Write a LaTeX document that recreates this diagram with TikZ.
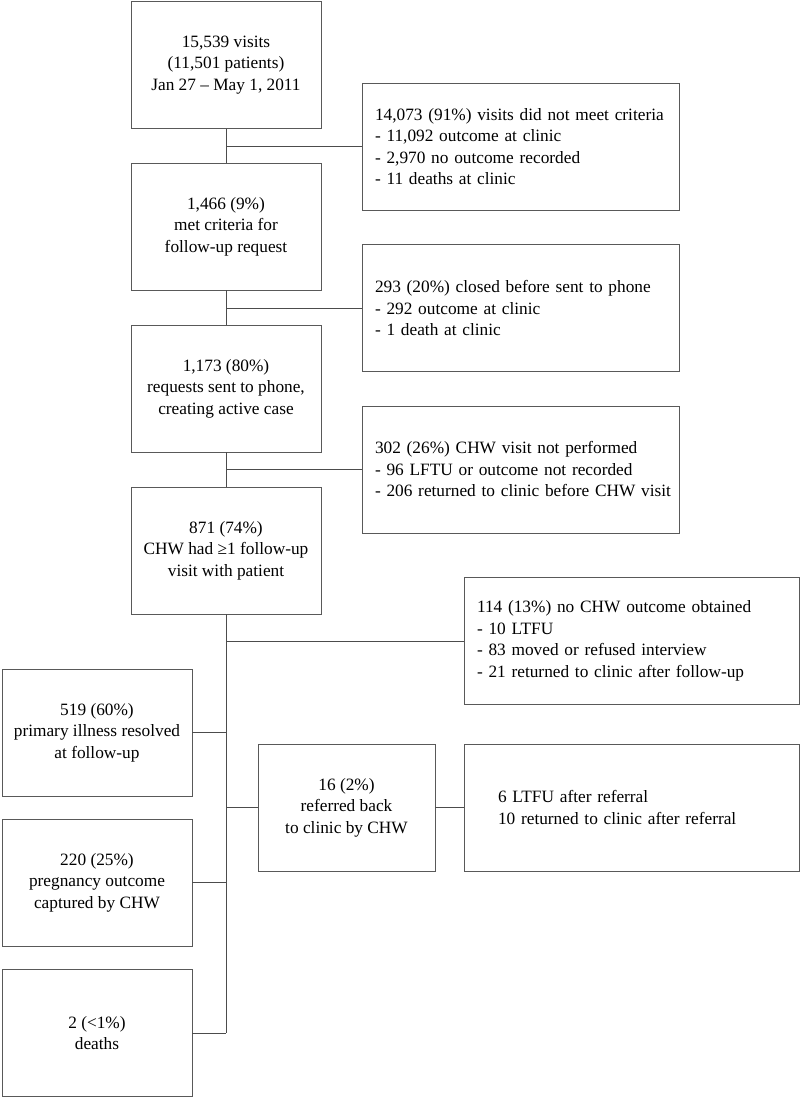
\documentclass[tikz,border=0pt]{standalone}
\usepackage{fontspec}
\setmainfont{Liberation Serif}
\begin{document}
\begin{tikzpicture}[x=1pt,y=-1pt,
  every node/.style={font=\fontsize{17.3}{21.5}\selectfont},
  cbox/.style={draw=black!65, line width=0.9pt, align=center, inner sep=0pt, minimum width=190, minimum height=127},
  rbox/.style={draw=black!65, line width=0.9pt, align=left, inner xsep=13, inner ysep=0pt, text width=#1-26, minimum height=127},
  conn/.style={draw=black!70, line width=0.9pt}]
\useasboundingbox (0,0) rectangle (800,1099);
% main column
\node[cbox] (b1) at (226,65) {15,539 visits\\ (11,501 patients)\\ Jan 27 – May 1, 2011};
\node[cbox] (b2) at (226,226.5) {1,466 (9\%)\\ met criteria for\\ follow-up request};
\node[cbox] (b3) at (226,388.5) {1,173 (80\%)\\ requests sent to phone,\\ creating active case};
\node[cbox] (b4) at (226,550.5) {871 (74\%)\\ CHW had ≥1 follow-up\\ visit with patient};
% right exclusion boxes
\node[rbox=317] (r1) at (520.5,146.5) {\mbox{14,073 (91\%) visits did not meet criteria}\\ - 11,092 outcome at clinic\\ - 2,970 no outcome recorded\\ - 11 deaths at clinic};
\node[rbox=317] (r2) at (520.5,308) {\mbox{293 (20\%) closed before sent to phone}\\ - 292 outcome at clinic\\ - 1 death at clinic};
\node[rbox=317] (r3) at (520.5,469.5) {302 (26\%) CHW visit not performed\\ - 96 LFTU or outcome not recorded\\ \mbox{- 206 returned to clinic before CHW visit}};
\node[rbox=335] (r4) at (631.5,641) {114 (13\%) no CHW outcome obtained\\ - 10 LTFU\\ - 83 moved or refused interview\\ - 21 returned to clinic after follow-up};
% left outcome boxes
\node[cbox] (l1) at (97,732.5) {519 (60\%)\\ primary illness resolved\\ at follow-up};
\node[cbox] (l2) at (97,882.5) {220 (25\%)\\ pregnancy outcome\\ captured by CHW};
\node[cbox] (l3) at (97,1033) {2 (<1\%)\\ deaths};
% referral boxes
\node[cbox, minimum width=177] (m16) at (346.5,807.5) {16 (2\%)\\ referred back\\ to clinic by CHW};
\node[draw=black!65, line width=0.9pt, align=left, inner xsep=34, inner ysep=0pt, text width=267, minimum height=127] (r6) at (631.5,807.5) {6 LTFU after referral\\ 10 returned to clinic after referral};
% trunk
\draw[conn] (b1.south) -- (b2.north);
\draw[conn] (b2.south) -- (b3.north);
\draw[conn] (b3.south) -- (b4.north);
\draw[conn] (b4.south) -- (b4.south |- l3.east);
% side branches
\draw[conn] (b1.south |- r1.west) -- (r1.west);
\draw[conn] (b2.south |- r2.west) -- (r2.west);
\draw[conn] (b3.south |- r3.west) -- (r3.west);
\draw[conn] (b4.south |- r4.west) -- (r4.west);
\draw[conn] (l1.east) -- (b4.south |- l1.east);
\draw[conn] (l2.east) -- (b4.south |- l2.east);
\draw[conn] (l3.east) -- (b4.south |- l3.east);
\draw[conn] (b4.south |- m16.west) -- (m16.west);
\draw[conn] (m16.east) -- (r6.west);
\end{tikzpicture}
\end{document}
